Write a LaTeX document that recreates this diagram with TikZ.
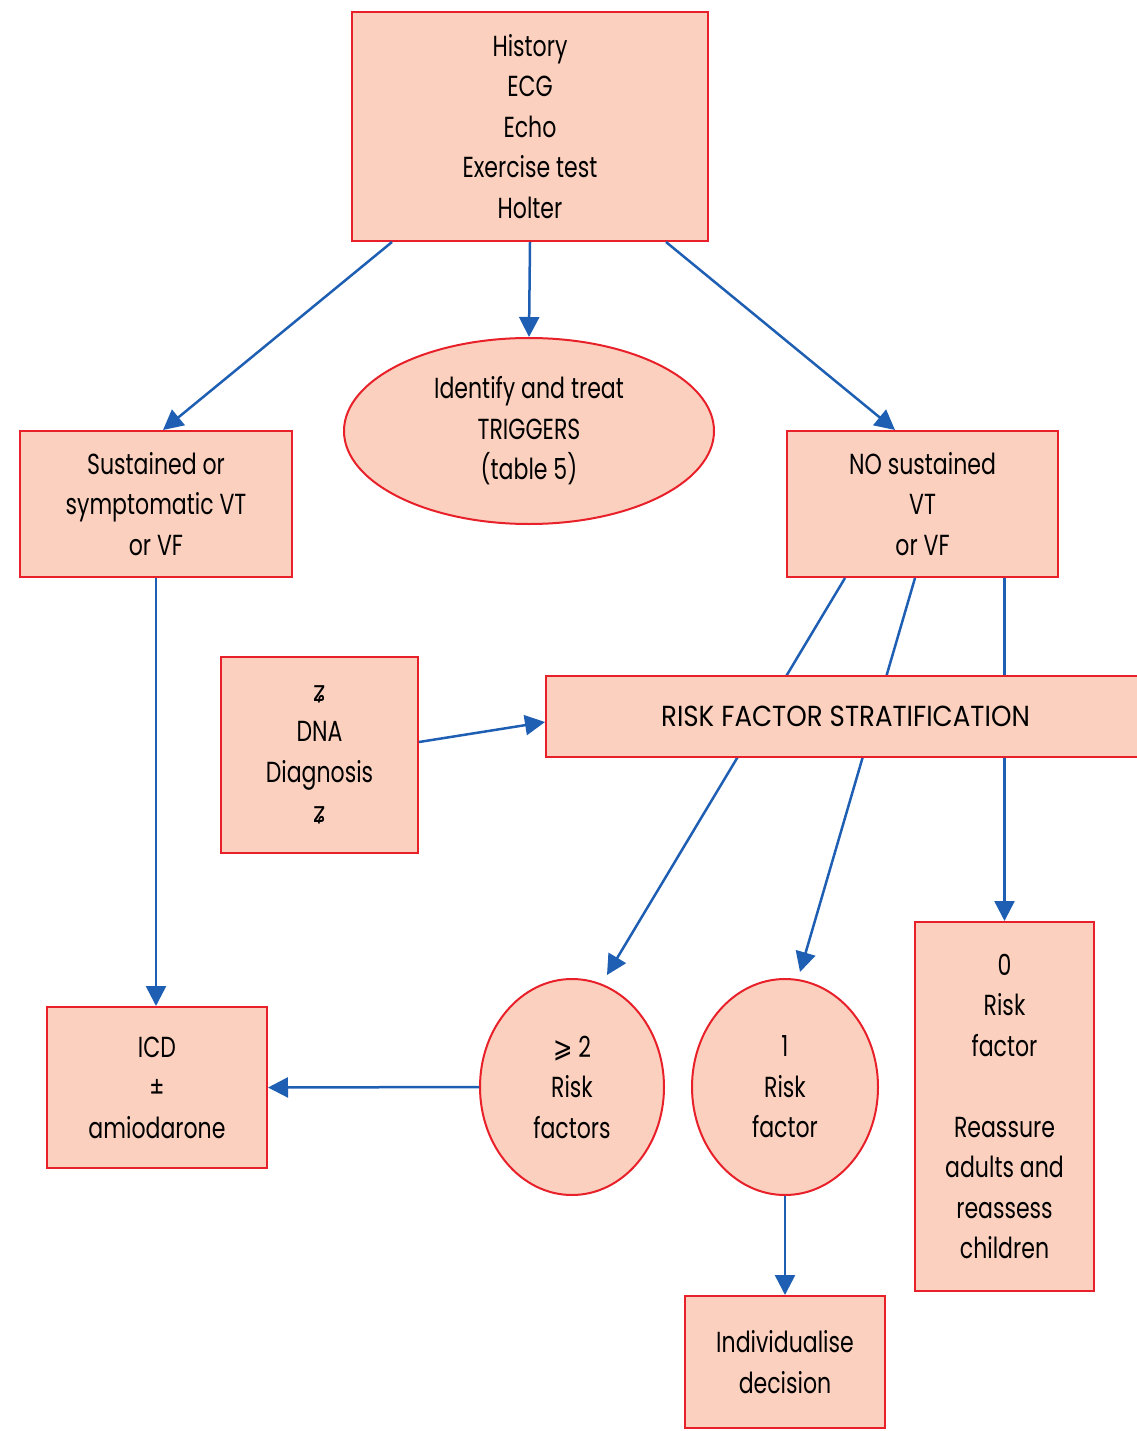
\documentclass[tikz,border=0pt]{standalone}
\usepackage{fontspec}
\setmainfont[FakeStretch=0.76]{Poppins}
\newfontfamily\symfont[FakeStretch=0.8]{DejaVu Sans}
\newfontfamily\wideset[FakeStretch=0.9]{Poppins}
\usetikzlibrary{arrows.meta,shapes.geometric,calc}
\definecolor{boxfill}{RGB}{251,208,190}
\definecolor{boxline}{RGB}{232,32,42}
\definecolor{arr}{RGB}{30,95,180}
\begin{document}
\begin{tikzpicture}[x=1pt,y=-1pt,
 box/.style={draw=boxline,fill=boxfill,line width=2pt,inner sep=0pt,align=center,font=\fontsize{29}{40.5}\selectfont},
 oval/.style={box,ellipse},
 link/.style={draw=arr,line width=2.5pt,-{Triangle[length=20pt,width=20pt]}},
 plainlink/.style={draw=arr,line width=2.5pt}]
\useasboundingbox (0,0) rectangle (1136,1431);
\node[box,minimum width=356pt,minimum height=229pt] (top) at (530,126.5) {History\\ECG\\Echo\\Exercise test\\Holter};
\node[oval,minimum width=370pt,minimum height=186pt] (trig) at (529,431) {Identify and treat\\TRIGGERS\\(table 5)};
\node[box,minimum width=272pt,minimum height=146pt] (left) at (156,504) {Sustained or\\symptomatic VT\\or VF};
\node[box,minimum width=271pt,minimum height=146pt] (right) at (922.5,504) {NO sustained\\VT\\or VF};
\node[box,minimum width=197pt,minimum height=196pt] (dna) at (319.5,755) {{\symfont ʑ}\\DNA\\Diagnosis\\{\symfont ʑ}};
\node[box,minimum width=220pt,minimum height=161pt] (icd) at (157,1087.5) {ICD\\±\\amiodarone};
\node[oval,minimum width=184pt,minimum height=216pt] (c2) at (572,1087) {{\symfont ⩾} 2\\Risk\\factors};
\node[oval,minimum width=186pt,minimum height=216pt] (c1) at (785,1087) {1\\Risk\\factor};
\node[box,minimum width=179pt,minimum height=369pt] (zero) at (1004.5,1106.5) {0\\Risk\\factor\\\mbox{}\\Reassure\\adults and\\reassess\\children};
\node[box,minimum width=200pt,minimum height=132pt] (ind) at (785,1362) {Individualise\\decision};
\coordinate (c2in) at ($(c2.center)+(35,-112)$);
\coordinate (c1in) at ($(c1.center)+(15,-115)$);
\draw[link] ([xshift=-138pt]top.south) -- ([xshift=7pt]left.north);
\draw[link] (top.south) -- (trig.north);
\draw[link] ([xshift=136pt]top.south) -- ([xshift=-27.5pt]right.north);
\draw[link] (left.south) -- (left.south |- icd.north);
\draw[link] ([xshift=-77.5pt]right.south) -- (c2in);
\draw[link] ([xshift=-7.5pt]right.south) -- (c1in);
\draw[link] (zero.north |- right.south) -- (zero.north);
\node[box,minimum width=599pt,minimum height=81pt,font=\wideset\fontsize{29}{40.5}\selectfont] (risk) at (845.5,716.5) {RISK FACTOR STRATIFICATION};
\draw[link] ([yshift=13pt]dna.east) -- ([yshift=-5.5pt]risk.west);
\draw[link] (c2.west) -- (icd.east);
\draw[link] (c1.south) -- (ind.north);
\end{tikzpicture}
\end{document}
